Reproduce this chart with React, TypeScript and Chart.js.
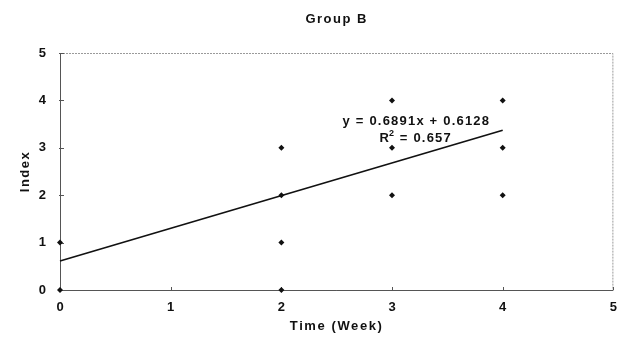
import React, { useEffect, useRef } from "react";
import { Chart, registerables } from "chart.js";
Chart.register(...registerables);

const pointX = [0, 0, 2, 2, 2, 2, 3, 3, 3, 4, 4, 4];
const pointY = [0, 1, 0, 1, 2, 3, 2, 3, 4, 2, 3, 4];
const trendX = [0, 4];
const trendY = [0.6128, 3.3692];
const xTicks = [0, 1, 2, 3, 4, 5];
const yTicks = [0, 1, 2, 3, 4, 5];
const titleText = "Group B";
const xTitle = "Time (Week)";
const yTitle = "Index";
const eqText = "y = 0.6891x + 0.6128";
const r2Text = "R";
const r2Rest = " = 0.657";

const FONT = "'Liberation Sans', Arial, sans-serif";

const decor = {
  id: "decor",
  beforeDatasetsDraw(chart: any) {
    const { ctx, chartArea: a, scales } = chart;
    ctx.save();
    ctx.strokeStyle = "#9a9a9a";
    ctx.lineWidth = 1;
    ctx.setLineDash([2, 1]);
    ctx.beginPath();
    ctx.moveTo(a.left, a.top + 0.5);
    ctx.lineTo(a.right - 0.5, a.top + 0.5);
    ctx.lineTo(a.right - 0.5, a.bottom);
    ctx.stroke();
    ctx.setLineDash([]);
    ctx.strokeStyle = "#555";
    ctx.beginPath();
    ctx.moveTo(a.left + 0.5, a.top);
    ctx.lineTo(a.left + 0.5, a.bottom + 0.5);
    ctx.lineTo(a.right, a.bottom + 0.5);
    ctx.stroke();
    ctx.beginPath();
    xTicks.forEach((v) => {
      const px = Math.round(scales.x.getPixelForValue(v)) + 0.5;
      ctx.moveTo(px, a.bottom);
      ctx.lineTo(px, a.bottom - 3);
    });
    yTicks.forEach((v) => {
      const py = Math.round(scales.y.getPixelForValue(v)) + 0.5;
      ctx.moveTo(a.left - 1, py);
      ctx.lineTo(a.left + 4, py);
    });
    ctx.stroke();
    ctx.restore();
  },
  afterDraw(chart: any) {
    const { ctx, chartArea: a, scales } = chart;
    ctx.save();
    ctx.fillStyle = "#111";
    ctx.textAlign = "center";
    ctx.textBaseline = "middle";
    ctx.font = `bold 13px ${FONT}`;
    const cx = (a.left + a.right) / 2;
    (ctx as any).letterSpacing = "1.5px";
    ctx.fillText(titleText, cx, 19);
    (ctx as any).letterSpacing = "1.6px";
    ctx.fillText(xTitle, cx, 326);
    (ctx as any).letterSpacing = "1.5px";
    ctx.save();
    ctx.translate(25, (a.top + a.bottom) / 2);
    ctx.rotate(-Math.PI / 2);
    ctx.fillText(yTitle, 0, 0);
    ctx.restore();
    // equation
    (ctx as any).letterSpacing = "1.2px";
    const ex = scales.x.getPixelForValue(3.22);
    const ey = scales.y.getPixelForValue(3.55);
    ctx.font = `bold 13px ${FONT}`;
    ctx.fillText(eqText, ex, ey);
    const ry = ey + 17;
    const rx = ex - 37;
    ctx.textAlign = "left";
    ctx.fillText(r2Text, rx, ry);
    const w = ctx.measureText(r2Text).width;
    ctx.font = `bold 9px ${FONT}`;
    ctx.fillText("2", rx + w - 1, ry - 5);
    ctx.font = `bold 13px ${FONT}`;
    ctx.fillText(r2Rest, rx + w + 5, ry);
    ctx.restore();
  },
};

export default function App() {
  const ref = useRef<HTMLCanvasElement>(null);
  useEffect(() => {
    const chart = new Chart(ref.current!, {
      type: "scatter",
      data: {
        datasets: [
          {
            type: "line",
            data: trendX.map((x, i) => ({ x, y: trendY[i] })),
            borderColor: "#111",
            borderWidth: 1.7,
            pointRadius: 0,
            fill: false,
            clip: false,
          } as any,
          {
            data: pointX.map((x, i) => ({ x, y: pointY[i] })),
            pointStyle: "rectRot",
            pointRadius: 3,
            backgroundColor: "#111",
            borderColor: "#111",
            borderWidth: 0,
            clip: false,
          },
        ],
      },
      options: {
        animation: false,
        responsive: false,
        maintainAspectRatio: false,
        layout: { padding: { top: 53, right: 12, left: 0, bottom: 0 } },
        plugins: { legend: { display: false }, tooltip: { enabled: false } },
        scales: {
          x: {
            type: "linear",
            min: 0,
            max: 5,
            afterFit: (s: any) => {
              s.height = 48;
            },
            afterBuildTicks: (s: any) => {
              s.ticks = xTicks.map((v) => ({ value: v }));
            },
            grid: { display: false, drawTicks: false },
            border: { display: false },
            ticks: {
              padding: 10,
              color: "#111",
              font: { family: FONT, size: 13, weight: "bold" },
            },
          },
          y: {
            type: "linear",
            min: 0,
            max: 5,
            afterFit: (s: any) => {
              s.width = 60;
            },
            afterBuildTicks: (s: any) => {
              s.ticks = yTicks.map((v) => ({ value: v }));
            },
            grid: { display: false, drawTicks: false },
            border: { display: false },
            ticks: {
              padding: 14,
              color: "#111",
              font: { family: FONT, size: 13, weight: "bold" },
            },
          },
        },
      },
      plugins: [decor],
    } as any);
    return () => chart.destroy();
  }, []);
  return (
    <div style={{ position: "fixed", left: 0, top: 0, width: 627, height: 338, background: "#fff" }}>
      <canvas ref={ref} width={627} height={338} style={{ width: 627, height: 338 }} />
    </div>
  );
}
